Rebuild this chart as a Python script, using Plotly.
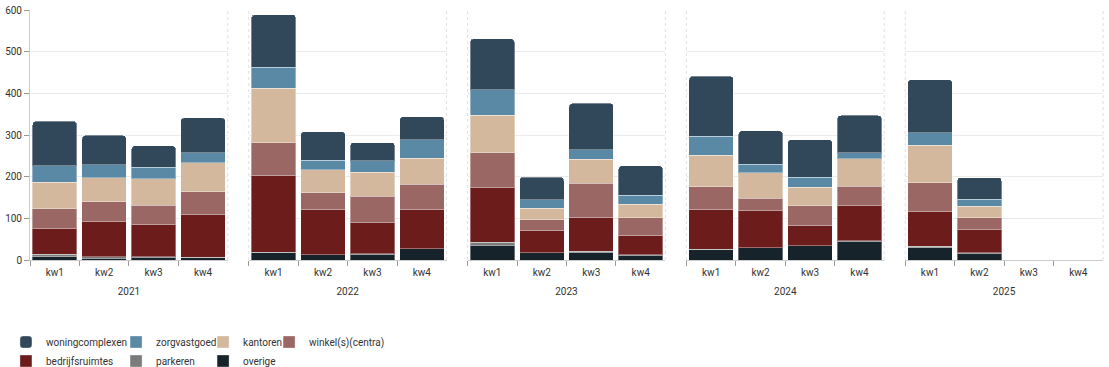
import plotly.graph_objects as go
from plotly.subplots import make_subplots

years = ["2021", "2022", "2023", "2024", "2025"]
quarters = ["kw1", "kw2", "kw3", "kw4"]

# values per year, kw1..kw4
woningcomplexen = {
    "2021": [107, 70, 51, 84], "2022": [126, 69, 44, 55], "2023": [122, 54, 111, 71],
    "2024": [144, 80, 90, 89], "2025": [127, 52, 0, 0]}
zorgvastgoed = {
    "2021": [39, 32, 28, 24], "2022": [51, 22, 27, 45], "2023": [62, 21, 23, 21],
    "2024": [46, 20, 24, 15], "2025": [31, 17, 0, 0]}
kantoren = {
    "2021": [64, 57, 64, 69], "2022": [130, 56, 58, 62], "2023": [90, 27, 58, 32],
    "2024": [75, 62, 45, 66], "2025": [90, 27, 0, 0]}
winkels = {
    "2021": [48, 47, 45, 55], "2022": [78, 39, 64, 60], "2023": [84, 25, 81, 42],
    "2024": [54, 30, 46, 47], "2025": [68, 28, 0, 0]}
bedrijfsruimtes = {
    "2021": [61, 85, 78, 102], "2022": [185, 109, 74, 95], "2023": [130, 55, 82, 47],
    "2024": [96, 88, 50, 84], "2025": [84, 56, 0, 0]}
parkeren = {
    "2021": [6, 4, 1, 1], "2022": [0, 0, 1, 0], "2023": [7, 0, 2, 1],
    "2024": [1, 1, 0, 1], "2025": [3, 2, 0, 0]}
overige = {
    "2021": [8, 4, 7, 6], "2022": [19, 13, 14, 27], "2023": [36, 17, 19, 12],
    "2024": [25, 29, 34, 45], "2025": [30, 16, 0, 0]}

# stacking order bottom -> top
series = [
    ("overige", overige, "#17232b", "legend3"),
    ("parkeren", parkeren, "#7b7b7b", "legend2"),
    ("bedrijfsruimtes", bedrijfsruimtes, "#6d1c1c", "legend"),
    ("winkel(s)(centra)", winkels, "#9a6765", "legend4"),
    ("kantoren", kantoren, "#d3b89d", "legend3"),
    ("zorgvastgoed", zorgvastgoed, "#5a89a6", "legend2"),
    ("woningcomplexen", woningcomplexen, "#304859", "legend"),
]

fig = make_subplots(rows=1, cols=5, shared_yaxes=True, horizontal_spacing=0.0196)

for ci, yr in enumerate(years, start=1):
    for name, data, color, lg in series:
        marker = dict(color=color, line=dict(color="rgba(255,255,255,0.35)", width=1))
        if name == "woningcomplexen":
            marker["cornerradius"] = 4
        fig.add_trace(go.Bar(
            x=quarters, y=data[yr], name=name, legendgroup=name,
            marker=marker, showlegend=(ci == 1), legend=lg,
            hovertemplate=name + ": %{y}<extra></extra>",
        ), row=1, col=ci)

font_color = "#333333"
for ci, yr in enumerate(years, start=1):
    fig.update_xaxes(
        row=1, col=ci, type="category", categoryorder="array", categoryarray=quarters,
        tickson="boundaries", ticks="outside", ticklen=5, tickcolor="#999999",
        showline=True, linecolor="#cccccc", linewidth=1, showgrid=False,
        tickfont=dict(size=10, color=font_color), ticklabelstandoff=3,
        title=dict(text=yr, font=dict(size=10, color=font_color), standoff=10),
    )
    fig.update_yaxes(
        row=1, col=ci, range=[0, 600], tickvals=[0, 100, 200, 300, 400, 500, 600],
        showgrid=True, gridcolor="#ebebeb", gridwidth=1, zeroline=False,
        ticks="outside" if ci == 1 else "", ticklen=5, tickcolor="#999999",
        showline=(ci == 1), linecolor="#cccccc",
        tickfont=dict(size=10, color=font_color),
    )

# dashed panel borders
shapes = []
for ci in range(1, 6):
    xr = "x domain" if ci == 1 else f"x{ci} domain"
    edges = [1] if ci == 1 else [0, 1]
    for e in edges:
        shapes.append(dict(type="line", xref=xr, yref="y domain", x0=e, x1=e, y0=0, y1=1,
                           line=dict(color="#e0e0e0", width=1, dash="dot"), layer="below"))
fig.update_layout(shapes=shapes)

leg_common = dict(orientation="v", yanchor="top", y=-0.27, xanchor="left",
                  font=dict(size=10, color=font_color), bgcolor="rgba(0,0,0,0)",
                  traceorder="reversed", itemwidth=30, tracegroupgap=0)
fig.update_layout(
    barmode="stack", bargap=0.1,
    width=1109, height=367,
    margin=dict(l=30, r=6, t=10, b=107, autoexpand=False),
    paper_bgcolor="white", plot_bgcolor="white",
    font=dict(family="Roboto, Arial, sans-serif", size=10, color=font_color),
    legend=dict(x=-0.0224, **leg_common),
    legend2=dict(x=0.0802, **leg_common),
    legend3=dict(x=0.1613, **leg_common),
    legend4=dict(x=0.2228, **leg_common),
)

fig.write_html("out.html", config={"displayModeBar": False},
               post_script="document.body.style.margin='0';document.body.style.overflow='hidden';")
